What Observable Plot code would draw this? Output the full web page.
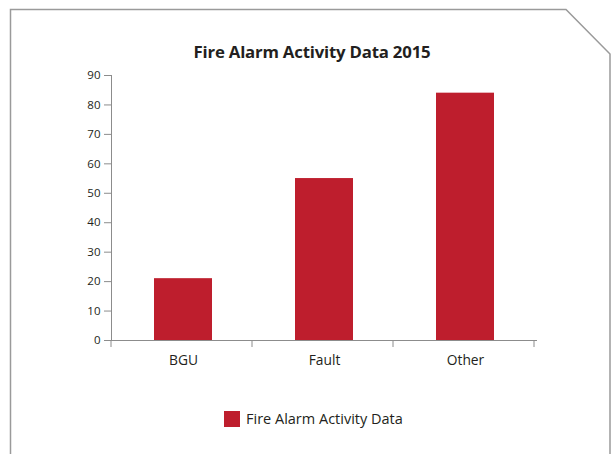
<!DOCTYPE html>
<html>
<head>
<meta charset="utf-8">
<script src="https://cdn.jsdelivr.net/npm/d3@7"></script>
<script src="https://cdn.jsdelivr.net/npm/@observablehq/plot@0.6"></script>
<style>
  html, body { margin: 0; padding: 0; background: #fff; }
  #wrap { position: relative; width: 611px; height: 454px; overflow: hidden; font-family: "Open Sans", "Noto Sans", sans-serif; color: #231f20; }
  #deco { position: absolute; left: 0; top: 0; }
  #title { position: absolute; left: 112px; width: 400px; top: 40px; text-align: center; font-weight: bold; font-size: 16.8px; letter-spacing: -0.2px; }
  #chart { position: absolute; left: 0; top: 0; }
  #legend { position: absolute; left: 224px; top: 409px; display: flex; align-items: center; font-size: 14.5px; }
  #legend .sw { width: 16px; height: 16px; margin-right: 6px; }
</style>
</head>
<body>
<div id="wrap">
  <svg id="deco" width="611" height="454">
    <path d="M10.5,454 L10.5,9.5 L566,9.5 L610,54 L610,454" fill="none" stroke="#9a9a9a" stroke-width="1.5"/>
  </svg>
  <div id="chart"></div>
  <div id="title"></div>
  <div id="legend"></div>
</div>
<script>
const chartTitle = "Fire Alarm Activity Data 2015";
const seriesName = "Fire Alarm Activity Data";
const categories = ["BGU", "Fault", "Other"];
const values = [21, 55, 84];
const yTicks = [0, 10, 20, 30, 40, 50, 60, 70, 80, 90];
const barColor = "#be1e2d";

const data = categories.map((c, i) => ({category: c, value: values[i]}));

document.getElementById("title").textContent = chartTitle;
const lg = document.getElementById("legend");
lg.innerHTML = `<div class="sw" style="background:${barColor}"></div><span></span>`;
lg.querySelector("span").textContent = seriesName;

const plot = Plot.plot({
  width: 611,
  height: 454,
  marginLeft: 111,
  marginRight: 74,
  marginTop: 75,
  marginBottom: 114,
  style: {fontFamily: '"Open Sans", "Noto Sans", sans-serif', background: "transparent", color: "#231f20"},
  x: {domain: categories, paddingInner: 0.5915, paddingOuter: 0.2958, label: null},
  y: {domain: [0, 90], label: null},
  marks: [
    Plot.barY(data, {x: "category", y: "value", fill: barColor}),
    Plot.frame({anchor: "left", stroke: "#8c8c8c", strokeOpacity: 1}),
    Plot.ruleY([0], {stroke: "#8c8c8c", insetLeft: -6}),
    Plot.axisY({ticks: yTicks, tickSize: 7, tickPadding: 4, stroke: "#8c8c8c", fontSize: 11.5, fill: "#231f20", label: null}),
    Plot.axisX({tickSize: 0, tickPadding: 15, fontSize: 13.8, fill: "#231f20", label: null})
  ]
});
document.getElementById("chart").appendChild(plot);

// category boundary ticks on the x axis, positioned from Plot's own scales
const xs = plot.scale("x"), ysc = plot.scale("y");
const y0 = ysc.apply(0);
const r0 = xs.range[0];
const g = d3.select(plot).append("g").attr("stroke", "#8c8c8c");
for (let k = 0; k <= categories.length; k++) {
  const xp = r0 + k * xs.step;
  g.append("line").attr("x1", xp).attr("x2", xp).attr("y1", y0).attr("y2", y0 + 7);
}
</script>
</body>
</html>
